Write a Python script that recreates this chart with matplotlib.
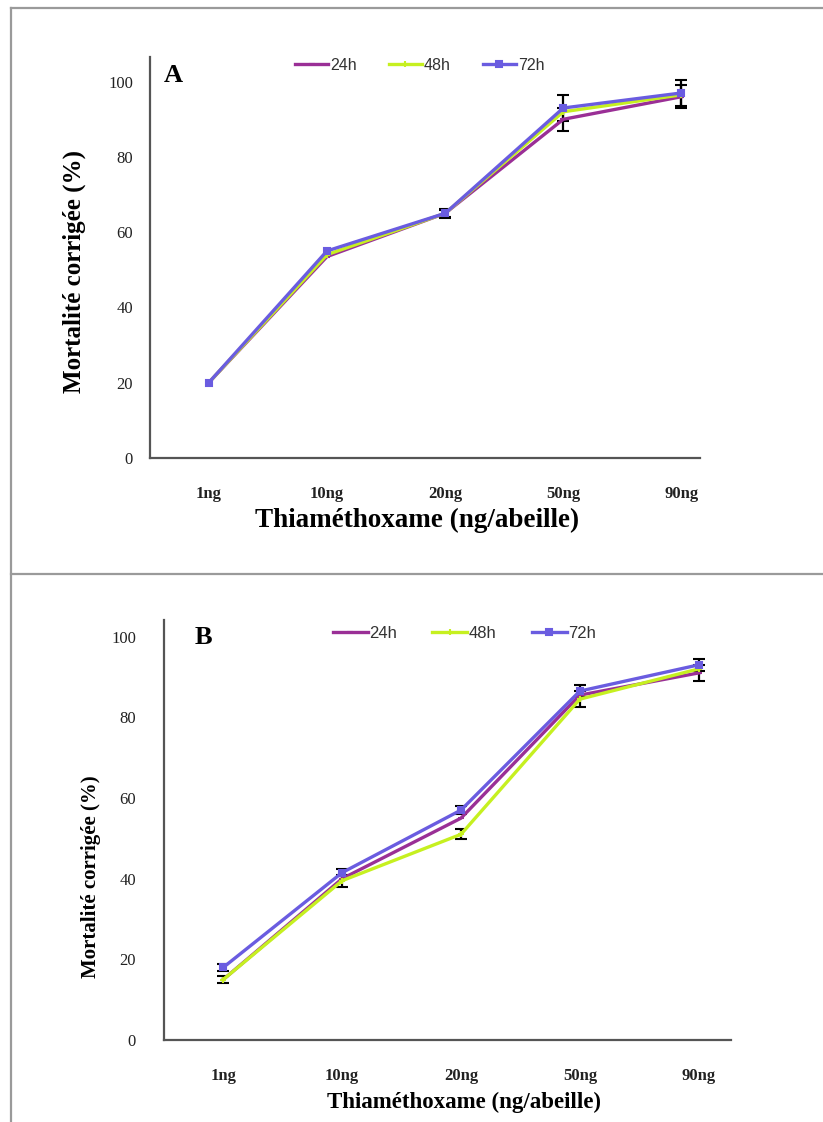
import numpy as np
import matplotlib
matplotlib.use('Agg')
import matplotlib.pyplot as plt
from matplotlib.lines import Line2D

# doses de thiaméthoxame
doses = ['1ng', '10ng', '20ng', '50ng', '90ng']
periodes = ['24h', '48h', '72h']

# mortalité corrigée (%) - essai A
mort_a_24 = [20, 53.5, 65, 90, 96]
mort_a_48 = [20, 54, 65, 92, 96.5]
mort_a_72 = [20, 55, 65, 93, 97]
err_a_24 = [np.nan, np.nan, 1.2, 3, 3]
err_a_48 = [np.nan, np.nan, np.nan, np.nan, np.nan]
err_a_72 = [np.nan, np.nan, 1.0, 3.5, 3.5]

# mortalité corrigée (%) - essai B
mort_b_24 = [15, 40, 55, 85.5, 91]
mort_b_48 = [15, 39.5, 51, 84.5, 92]
mort_b_72 = [18, 41.5, 57, 86.5, 93]
err_b_24 = [np.nan, np.nan, np.nan, np.nan, 2]
err_b_48 = [0.8, 1.5, 1.2, 2, np.nan]
err_b_72 = [0.8, 0.8, 1.0, 1.5, 1.5]

couleurs = ['#9a2f96', '#c6f020', '#6a5ce0']
marqueurs = ['_', '+', 's']

serif = ['Liberation Serif', 'DejaVu Serif']
sans = ['Liberation Sans', 'DejaVu Sans']

fig = plt.figure(figsize=(8.23, 11.22), dpi=100)

# cadre gris autour des deux panneaux
for l in [Line2D([0.0134, 0.0134], [0, 0.993]),
          Line2D([0.0134, 1], [0.993, 0.993]),
          Line2D([0.0134, 1], [0.4885, 0.4885])]:
    l.set_color('#9a9a9a')
    l.set_linewidth(1.6)
    fig.add_artist(l)


def panneau(ax, series, erreurs, lettre, ylim, xlim, fs_lab, ypad,
            ylab_pos, xlab_pos, lettre_pos, leg_pos, leg_fs, leg_col):
    x = np.arange(len(doses))
    for vals, err, c, m in zip(series, erreurs, couleurs, marqueurs):
        ax.errorbar(x, vals, yerr=err, color=c, lw=2.4, marker=m, ms=5, mew=1.5,
                    ecolor='black', elinewidth=1.6, capsize=4, capthick=2.8,
                    zorder=3)
    ax.set_xlim(*xlim)
    ax.set_ylim(*ylim)
    ax.set_yticks([0, 20, 40, 60, 80, 100])
    ax.set_xticks(x)
    ax.set_xticklabels(doses)
    ax.tick_params(length=0, labelsize=12, labelcolor='#222222')
    ax.tick_params(axis='y', pad=ypad)
    ax.tick_params(axis='x', pad=20)
    for t in ax.get_yticklabels():
        t.set_family(serif)
    for t in ax.get_xticklabels():
        t.set_family(serif)
        t.set_fontweight('bold')
    for s in ['top', 'right']:
        ax.spines[s].set_visible(False)
    for s in ['left', 'bottom']:
        ax.spines[s].set_color('#555555')
        ax.spines[s].set_linewidth(1.6)
    ax.set_xlabel('Thiaméthoxame (ng/abeille)', family=serif, fontweight='bold',
                  fontsize=fs_lab)
    ax.xaxis.set_label_coords(*xlab_pos)
    ax.set_ylabel('Mortalité corrigée (%)', family=serif, fontweight='bold',
                  fontsize=fs_lab - 1.5)
    ax.yaxis.set_label_coords(*ylab_pos)
    ax.text(lettre_pos[0], lettre_pos[1], lettre, transform=ax.transAxes,
            family=serif, fontweight='bold', fontsize=19, va='center')
    poignees = [Line2D([], [], color=c, lw=2.4, marker=m, ms=5, mew=1.5)
                for c, m in zip(couleurs, marqueurs)]
    leg = ax.legend(poignees, periodes, loc='center', bbox_to_anchor=leg_pos,
                    ncol=3, frameon=False, handlelength=2.1, handletextpad=0.1,
                    columnspacing=leg_col, prop={'family': sans, 'size': leg_fs})
    for t in leg.get_texts():
        t.set_color('#333333')


ax_a = fig.add_axes([0.182, 0.592, 0.669, 0.357])
panneau(ax_a, [mort_a_24, mort_a_48, mort_a_72], [err_a_24, err_a_48, err_a_72],
        'A', (0, 106.5), (-0.5, 4.16), 19.5, 12,
        (-0.115, 0.465), (0.485, -0.125), (0.025, 0.955), (0.49, 0.98), 11.5, 2.0)

ax_b = fig.add_axes([0.199, 0.073, 0.689, 0.374])
panneau(ax_b, [mort_b_24, mort_b_48, mort_b_72], [err_b_24, err_b_48, err_b_72],
        'B', (0, 104), (-0.5, 4.27), 16.5, 20,
        (-0.11, 0.39), (0.53, -0.123), (0.055, 0.96), (0.53, 0.97), 12, 2.1)

fig.savefig('out.png', dpi=100)
